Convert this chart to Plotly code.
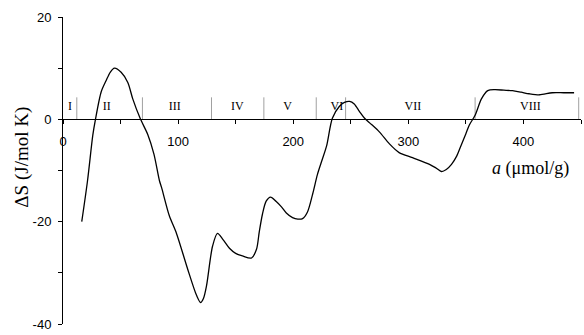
import plotly.graph_objects as go

# Entropy change vs. adsorbed amount
a_vals = [16.3, 21.3, 25.9, 28.2, 33.2, 37.5, 41.0, 44.7, 50.5, 56.3, 60.6, 67.0,
          73.7, 79.0, 83.8, 85.6, 92.3, 98.6, 108.2, 116.0, 119.5, 122.0, 124.7,
          129.9, 134.2, 139.0, 144.6, 150.0, 155.9, 163.8, 168.1, 170.5, 173.3,
          176.5, 180.3, 185.0, 189.8, 194.0, 199.4, 204.0, 208.1, 212.4, 217.0,
          221.0, 225.0, 229.0, 234.0, 240.0, 244.5, 249.0, 253.0, 257.6, 262.0,
          268.0, 275.0, 283.6, 292.0, 303.6, 318.4, 324.0, 328.8, 333.0, 337.5,
          342.0, 346.0, 350.0, 353.0, 358.0, 363.5, 369.0, 375.0, 383.0, 390.5,
          398.0, 405.0, 414.0, 425.0, 435.0, 444.0]
dS_vals = [-20.0, -12.0, -3.1, 0.0, 5.4, 7.6, 9.2, 10.0, 9.2, 7.2, 4.0, 0.2,
           -3.0, -6.8, -12.0, -13.3, -18.8, -22.3, -29.2, -34.4, -35.8, -35.0, -32.5,
           -24.8, -22.3, -23.5, -25.2, -26.2, -26.7, -27.1, -25.4, -22.0, -18.5,
           -16.0, -15.2, -16.0, -17.1, -18.3, -19.2, -19.5, -19.4, -18.1, -14.5,
           -10.8, -8.0, -5.2, 0.2, 2.5, 3.3, 3.5, 3.0, 1.5, 0.2,
           -1.0, -2.5, -4.8, -6.5, -7.5, -8.8, -9.5, -10.2, -9.8, -8.8,
           -7.2, -5.0, -2.8, -1.1, 0.8, 4.0, 5.6, 5.8, 5.7, 5.6,
           5.3, 5.0, 4.8, 5.2, 5.2, 5.2]

# Adsorption regions: boundaries and labels
region_bounds = [12, 69, 129, 174.5, 220, 245.5, 358, 448]
region_names = ["I", "II", "III", "IV", "V", "VI", "VII", "VIII"]
region_label_x = [6, 38, 97, 151.5, 195, 238, 304, 406]

x_ticks = [0, 100, 200, 300, 400]
y_ticks = [20, 0, -20, -40]

SERIF = "Liberation Serif"
SANS = "Liberation Sans"
DIV_TOP = 4.3
LABEL_Y = 2.45

fig = go.Figure()

# region divider lines
div_x, div_y = [], []
for b in region_bounds:
    div_x += [b, b, None]
    div_y += [0, DIV_TOP, None]
fig.add_trace(go.Scatter(x=div_x, y=div_y, mode="lines",
                         line=dict(color="#a0a0a0", width=1),
                         hoverinfo="skip", showlegend=False))

fig.add_trace(go.Scatter(x=region_label_x, y=[LABEL_Y] * len(region_names),
                         mode="text", text=region_names,
                         textfont=dict(family=SERIF, size=12, color="#000000"),
                         hoverinfo="skip", showlegend=False))

fig.add_trace(go.Scatter(x=a_vals, y=dS_vals, mode="lines",
                         line=dict(color="black", width=1.3, shape="spline", smoothing=0.8),
                         showlegend=False))

fig.update_layout(
    width=584, height=335,
    margin=dict(l=63, r=3, t=17, b=8),
    paper_bgcolor="white", plot_bgcolor="white",
    xaxis=dict(range=[0, 450], tickvals=x_ticks, ticktext=[str(v) for v in x_ticks],
               anchor="free", position=40 / 60,
               showline=True, linecolor="black", linewidth=1.2,
               ticks="outside", ticklen=4, tickcolor="black",
               minor=dict(dtick=50, tick0=0, ticks="outside", ticklen=4, tickcolor="black"),
               showgrid=False, zeroline=False, ticklabelstandoff=6,
               tickfont=dict(family=SANS, size=13, color="black")),
    yaxis=dict(range=[-40, 20], tickvals=y_ticks, ticktext=[str(v) for v in y_ticks],
               showline=True, linecolor="black", linewidth=1,
               ticks="outside", ticklen=4, tickcolor="black",
               minor=dict(dtick=10, tick0=0, ticks="outside", ticklen=4, tickcolor="black"),
               showgrid=False, zeroline=False, ticklabelstandoff=4,
               tickfont=dict(family=SANS, size=13, color="black")),
    annotations=[
        dict(text="ΔS (J/mol K)", textangle=-90, xref="paper", yref="paper",
             x=(22 - 63) / 518, y=(327 - 159) / 310, xanchor="center", yanchor="middle",
             showarrow=False, font=dict(family=SERIF, size=19, color="black")),
        dict(text="<i>a</i> (μmol/g)", xref="paper", yref="paper",
             x=(490 - 63) / 518, y=(327 - 170) / 310, xanchor="left", yanchor="middle",
             showarrow=False, font=dict(family=SERIF, size=18, color="black")),
    ],
)

fig.write_html("out.html")
